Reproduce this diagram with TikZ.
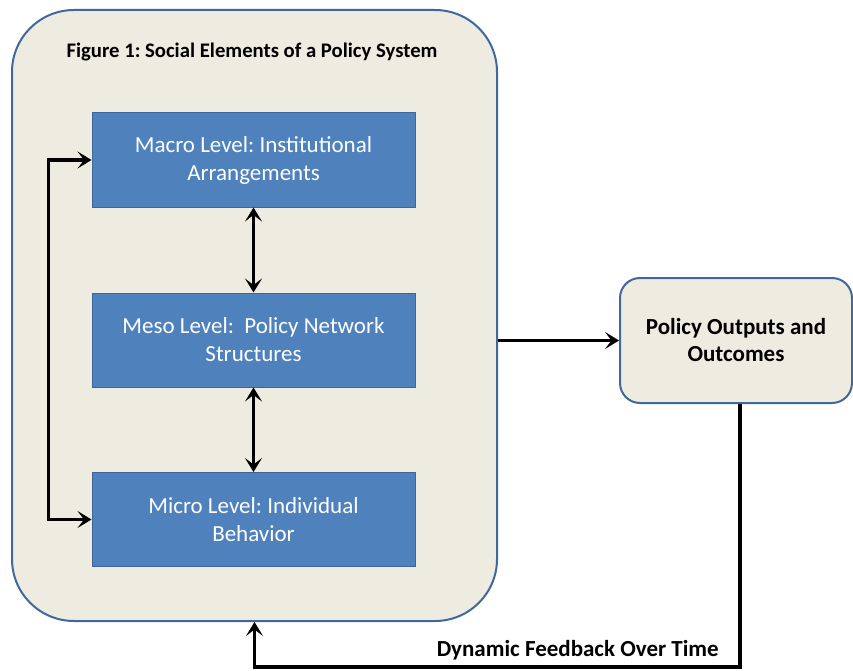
\documentclass[tikz,border=0pt]{standalone}
\usepackage{fontspec}
\setmainfont{Carlito}
\usetikzlibrary{arrows.meta,calc}
\definecolor{beige}{HTML}{EEECE1}
\definecolor{bordblue}{HTML}{41689A}
\definecolor{boxblue}{HTML}{4F81BD}
\definecolor{boxedge}{HTML}{3B679C}
\frenchspacing
\tikzset{
  outerbox/.style={draw=bordblue, line width=2pt, fill=beige, rounded corners=62pt, inner sep=0pt},
  levelbox/.style={draw=boxedge, line width=1pt, fill=boxblue, text=white, align=center,
    minimum width=323pt, minimum height=94pt, inner sep=0pt, font=\fontsize{23}{28}\selectfont},
  outbox/.style={draw=bordblue, line width=2pt, fill=beige, rounded corners=20pt, align=center,
    minimum width=232pt, minimum height=125pt, inner sep=0pt, font=\bfseries\fontsize{23}{27}\selectfont},
  tip/.tip={Stealth[length=14pt,width=17pt,inset=6.5pt]},
  conn/.style={line width=3.2pt, black, -tip},
  dconn/.style={line width=3.2pt, black, tip-tip},
  lbl/.style={font=\bfseries\fontsize{23}{27}\selectfont, inner sep=0pt}
}
\begin{document}
\begin{tikzpicture}[x=1pt,y=1pt]
\useasboundingbox (0,0) rectangle (853,-671);
\node[outerbox, minimum width=485pt, minimum height=611pt] (outer) at (254.5,-315.5) {};
\node[lbl, font=\bfseries\fontsize{20.7}{24}\selectfont] (title) at (252,-52) {Figure 1: Social Elements of a Policy System};
\node[levelbox] (macro) at (253.5,-160) {Macro Level: Institutional\\Arrangements};
\node[levelbox] (meso) at (253.5,-340) {Meso Level:\ \ Policy Network\\Structures};
\node[levelbox] (micro) at (253.5,-519.5) {Micro Level: Individual\\Behavior};
\node[outbox] (policy) at (736,-340.5) {Policy Outputs and\\Outcomes};
\node[lbl, anchor=base east] (fbl) at (719,-656) {Dynamic Feedback Over Time};
\coordinate (fb) at (740,-667);
\draw[dconn] (macro) -- (meso);
\draw[dconn] (meso) -- (micro);
\draw[dconn] (macro.west) -- ++(-43,0) |- (micro.west);
\draw[conn] (outer.east |- policy.west) -- (policy.west);
\draw[conn] (policy.south -| fb) -- (fb) -| (outer.south);
\end{tikzpicture}
\end{document}
